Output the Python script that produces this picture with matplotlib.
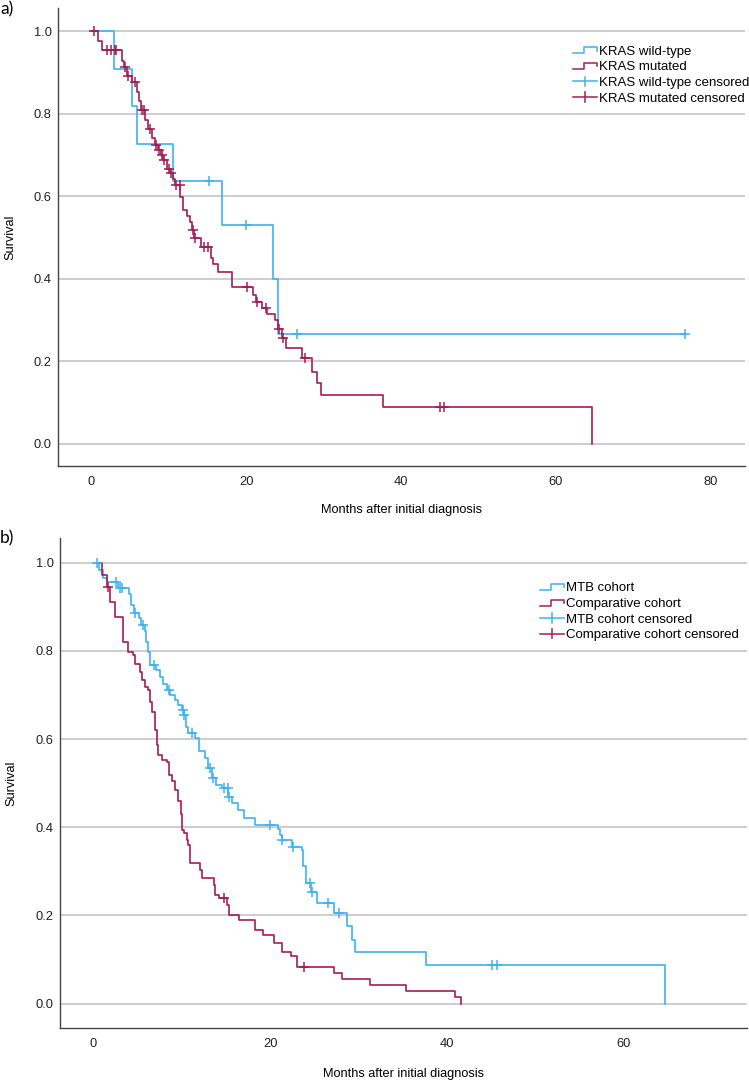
import numpy as np
import matplotlib
matplotlib.use("Agg")
import matplotlib.pyplot as plt
from matplotlib.lines import Line2D
from matplotlib.legend_handler import HandlerBase

plt.rcParams['font.family'] = ['Liberation Sans', 'DejaVu Sans']

BLUE = '#3db2f2'
RED = '#a31d55'

# ---- panel a: KRAS wild-type vs mutated ----
wt_start, wt_end = 0.7, 76.7
wt_times = [2.9, 5.3, 5.85, 10.5, 16.9, 23.5, 24.1]
wt_surv = [0.909, 0.818, 0.727, 0.636, 0.530, 0.398, 0.265]
wt_cens = [15.2, 20.0, 26.5, 76.7]

mut_start, mut_end = 0.1, 64.6
mut_times = [0.9, 1.4, 4.0, 4.2, 4.6, 5.3, 5.9, 6.2, 6.4, 6.9,
             7.3, 7.8, 8.2, 8.6, 9.0, 9.3, 9.8, 10.2, 10.5, 10.8,
             11.5, 11.8, 12.3, 12.7, 13.0, 13.3, 14.1, 15.4, 15.7, 16.4,
             18.2, 20.9, 21.2, 22.0, 22.7, 23.7, 24.1, 24.6, 25.2, 27.2,
             28.5, 29.1, 29.6, 37.6, 64.6]
mut_surv = [0.977, 0.953, 0.928, 0.913, 0.890, 0.877, 0.852, 0.830, 0.808, 0.785,
            0.762, 0.740, 0.723, 0.711, 0.699, 0.687, 0.667, 0.655, 0.641, 0.628,
            0.598, 0.566, 0.552, 0.538, 0.518, 0.498, 0.477, 0.449, 0.435, 0.417,
            0.379, 0.360, 0.344, 0.328, 0.315, 0.300, 0.279, 0.256, 0.231, 0.207,
            0.175, 0.147, 0.118, 0.088, 0.0]
mut_cens = [0.4, 2.0, 2.6, 3.0, 3.2, 4.3, 4.7, 5.6, 6.5, 6.8, 7.6, 8.4, 8.8,
            9.1, 9.4, 10.0, 10.3, 10.9, 11.4, 13.1, 13.4, 14.5, 15.1, 20.1,
            21.4, 22.5, 24.2, 24.7, 27.6, 45.0, 45.5]

# ---- panel b: MTB cohort vs comparative cohort ----
mtb_start, mtb_end = 0.34, 64.8
mtb_times = [0.6, 1.1, 1.5, 2.8, 4.0, 4.3, 4.6, 5.1, 5.4, 5.8,
             6.0, 6.2, 6.4, 7.1, 7.5, 7.9, 8.3, 8.7, 9.2, 9.6,
             10.0, 10.25, 10.5, 10.7, 11.5, 11.9, 12.6, 13.0, 13.4, 13.9,
             14.5, 15.25, 15.7, 16.4, 17.0, 18.3, 20.9, 21.1, 21.3, 22.5,
             23.6, 23.7, 24.1, 24.6, 25.3, 27.2, 28.7, 29.3, 29.6, 37.7, 64.8]
mtb_surv = [0.983, 0.965, 0.957, 0.943, 0.930, 0.904, 0.885, 0.874, 0.859, 0.844,
            0.821, 0.798, 0.768, 0.757, 0.741, 0.726, 0.711, 0.700, 0.689, 0.677,
            0.666, 0.655, 0.628, 0.613, 0.602, 0.572, 0.557, 0.534, 0.511, 0.496,
            0.488, 0.469, 0.454, 0.439, 0.420, 0.405, 0.397, 0.382, 0.370, 0.356,
            0.349, 0.311, 0.273, 0.254, 0.228, 0.205, 0.175, 0.144, 0.116, 0.088, 0.0]
mtb_cens = [0.34, 2.6, 3.0, 3.2, 4.7, 5.55, 6.8, 8.5, 10.15, 10.3, 11.1, 13.2,
            13.55, 14.8, 15.2, 15.3, 20.0, 21.4, 22.6, 24.5, 24.7, 26.6, 27.8,
            45.2, 45.7]

comp_start, comp_end = 0.7, 41.6
comp_times = [0.98, 1.5, 1.85, 2.4, 3.35, 3.9, 4.5, 4.7, 5.25, 5.45,
              5.8, 6.2, 6.4, 6.6, 6.95, 7.15, 7.3, 7.7, 8.3, 8.5,
              8.85, 9.2, 9.6, 9.9, 10.0, 10.2, 10.55, 10.75, 10.95, 12.1,
              12.3, 13.6, 13.8, 14.2, 15.1, 15.3, 16.5, 18.3, 19.2, 20.5,
              21.3, 22.4, 23.0, 27.2, 28.2, 31.3, 35.4, 40.9, 41.6]
comp_surv = [0.972, 0.945, 0.911, 0.877, 0.820, 0.798, 0.790, 0.771, 0.753, 0.734,
             0.719, 0.711, 0.685, 0.662, 0.621, 0.587, 0.564, 0.553, 0.549, 0.519,
             0.504, 0.485, 0.459, 0.429, 0.394, 0.386, 0.371, 0.360, 0.318, 0.303,
             0.284, 0.269, 0.246, 0.239, 0.224, 0.201, 0.190, 0.167, 0.156, 0.137,
             0.118, 0.107, 0.084, 0.070, 0.056, 0.042, 0.028, 0.014, 0.0]
comp_cens = [1.6, 14.8, 23.8]


class StepHandler(HandlerBase):
    def create_artists(self, legend, orig_handle, xdescent, ydescent,
                       width, height, fontsize, trans):
        x0, y0 = -xdescent, -ydescent
        xs = [x0, x0 + 0.45 * width, x0 + 0.45 * width, x0 + width, x0 + width]
        ys = [y0 + 0.15 * height, y0 + 0.15 * height, y0 + 0.8 * height,
              y0 + 0.8 * height, y0 + 0.45 * height]
        ln = Line2D(xs, ys, color=orig_handle.get_color(), lw=1.1)
        ln.set_transform(trans)
        return [ln]


class CensorHandler(HandlerBase):
    def create_artists(self, legend, orig_handle, xdescent, ydescent,
                       width, height, fontsize, trans):
        x0, y0 = -xdescent, -ydescent
        ym = y0 + 0.5 * height
        h = Line2D([x0, x0 + width], [ym, ym], color=orig_handle.get_color(), lw=1.1)
        xm = x0 + 0.5 * width
        v = Line2D([xm, xm], [ym - 0.5 * height, ym + 0.5 * height],
                   color=orig_handle.get_color(), lw=1.1)
        h.set_transform(trans)
        v.set_transform(trans)
        return [h, v]


def step_at(times, surv, t):
    idx = np.searchsorted(times, t, side='right') - 1
    return 1.0 if idx < 0 else surv[idx]


def km(ax, start, end, times, surv, cens, color):
    x = [start] + list(times)
    y = [1.0] + list(surv)
    if end > x[-1]:
        x.append(end)
        y.append(y[-1])
    ax.step(x, y, where='post', color=color, lw=1.2, zorder=3)
    cy = [step_at(times, surv, c) for c in cens]
    ax.plot(cens, cy, ls='none', marker='+', ms=7, mew=1.1, color=color, zorder=4)


def style(ax, xlim, ylim, xticks):
    ax.set_xlim(*xlim)
    ax.set_ylim(*ylim)
    ax.set_xticks(xticks)
    ax.set_yticks([0.0, 0.2, 0.4, 0.6, 0.8, 1.0])
    ax.set_yticklabels(['0.0', '0.2', '0.4', '0.6', '0.8', '1.0'])
    ax.grid(axis='y', color='#c9c9c9', lw=1.3)
    ax.set_axisbelow(True)
    for s in ['top', 'right']:
        ax.spines[s].set_visible(False)
    for s in ['left', 'bottom']:
        ax.spines[s].set_color('#444444')
        ax.spines[s].set_linewidth(1.0)
    ax.tick_params(length=0, labelsize=9.3, colors='#222222')
    ax.tick_params(axis='y', pad=4.5)
    ax.tick_params(axis='x', pad=7)
    ax.set_ylabel('Survival', fontsize=9.2)
    ax.set_xlabel('Months after initial diagnosis', fontsize=9.2)


fig = plt.figure(figsize=(7.49, 10.81), dpi=100)

# panel a
ax1 = fig.add_axes([58 / 749, 1 - 466 / 1081, 687 / 749, 458 / 1081])
km(ax1, wt_start, wt_end, wt_times, wt_surv, wt_cens, BLUE)
km(ax1, mut_start, mut_end, mut_times, mut_surv, mut_cens, RED)
style(ax1, (-4.3, 84.4), (-0.054, 1.056), [0, 20, 40, 60, 80])
ax1.xaxis.set_label_coords(0.5, -0.083)
ax1.yaxis.set_label_coords(-0.061, 0.5)

# panel b
ax2 = fig.add_axes([60 / 749, 1 - 1028.3 / 1081, 686.7 / 749, 490.3 / 1081])
km(ax2, mtb_start, mtb_end, mtb_times, mtb_surv, mtb_cens, BLUE)
km(ax2, comp_start, comp_end, comp_times, comp_surv, comp_cens, RED)
style(ax2, (-3.8, 74.0), (-0.056, 1.056), [0, 20, 40, 60])
ax2.xaxis.set_label_coords(0.5, -0.080)
ax2.yaxis.set_label_coords(-0.0626, 0.5)


def add_legend(ax, labels, anchor):
    h1 = Line2D([], [], color=BLUE)
    h2 = Line2D([], [], color=RED)
    h3 = Line2D([], [], color=BLUE)
    h4 = Line2D([], [], color=RED)
    hm = {h1: StepHandler(), h2: StepHandler(), h3: CensorHandler(), h4: CensorHandler()}
    ax.legend([h1, h2, h3, h4], labels, handler_map=hm, loc='upper left',
              bbox_to_anchor=anchor, bbox_transform=fig.transFigure,
              frameon=False, fontsize=9.5, borderpad=0, borderaxespad=0,
              handlelength=1.85, handletextpad=0.15, labelspacing=0.26)


add_legend(ax1, ['KRAS wild-type', 'KRAS mutated', 'KRAS wild-type censored',
                 'KRAS mutated censored'], (573 / 749, 1 - 45.5 / 1081))
add_legend(ax2, ['MTB cohort', 'Comparative cohort', 'MTB cohort censored',
                 'Comparative cohort censored'], (540 / 749, 1 - 582 / 1081))

fig.text(0.0, 1 - 9 / 1081, 'a)', family=['Lato', 'DejaVu Sans'], fontsize=12.5, va='center')
fig.text(0.0, 1 - 538 / 1081, 'b)', family=['Lato', 'DejaVu Sans'], fontsize=12.5, va='center')

fig.savefig('out.png', dpi=100)
